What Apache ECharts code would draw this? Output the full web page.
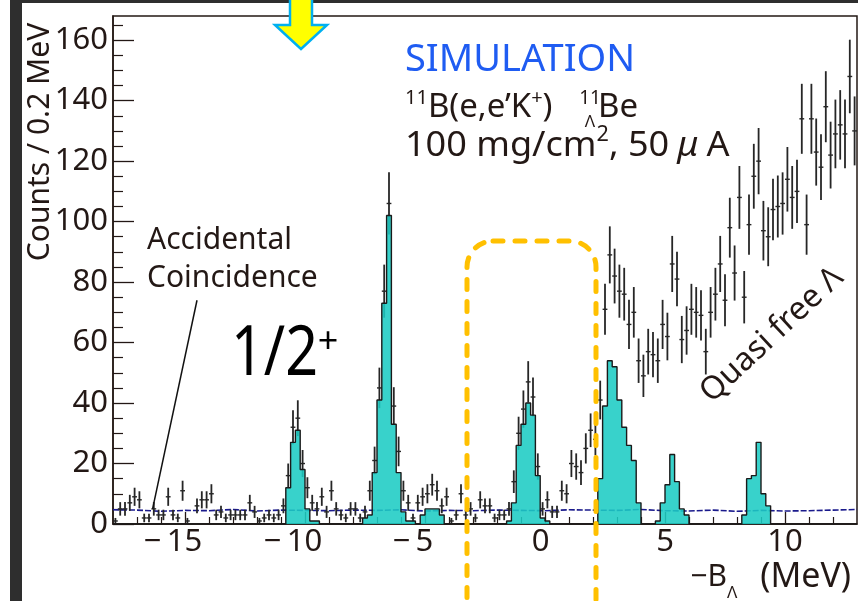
<!DOCTYPE html>
<html>
<head>
<meta charset="utf-8">
<script src="https://cdn.jsdelivr.net/npm/echarts@6/dist/echarts.min.js"></script>
<style>
  html, body { margin: 0; padding: 0; background: #fff; }
  #chart { width: 858px; height: 601px; }
</style>
</head>
<body>
<div id="chart"></div>
<script>
// axis range (MeV) and histogram binning
const X_MIN = -18, X_MAX = 13, BIN_WIDTH = 0.2;
const Y_MIN = 0, Y_MAX = 168;

const xMajorTicks = [-15, -10, -5, 0, 5, 10];
const xMinorTicks = [-17, -16, -14, -13, -12, -11, -9, -8, -7, -6, -4, -3, -2, -1, 1, 2, 3, 4, 6, 7, 8, 9, 11, 12];
const yMajorTicks = [0, 20, 40, 60, 80, 100, 120, 140, 160];
const yMinorTicks = [5, 10, 15, 25, 30, 35, 45, 50, 55, 65, 70, 75, 85, 90, 95, 105, 110, 115, 125, 130, 135, 145, 150, 155, 165];

// counts per 0.2 MeV bin, first bin starts at X_MIN
const dataCounts = [
  1, 5, 5, 7, 9, 8, 2, 2, 5, 3, 3, 9, 3, 2, 11, 1, 0, 6, 8, 8, 10, 3, 4, 2, 3, 3, 3, 3, 7, 4, 1, 2, 3, 2, 3, 6,
  16, 32, 35, 20, 12, 7, 5, 9, 4, 11, 5, 3, 2, 5, 5, 2, 4, 11, 21, 45, 77, 106, 39, 24, 11, 7, 2, 7, 9, 10, 13, 11,
  6, 9, 1, 3, 10, 3, 5, 2, 8, 6, 6, 2, 3, 3, 5, 14, 30, 38, 47, 42, 19, 5, 8, 4, 4, 11, 10, 20, 19, 17, 25, 31, 28, 41,
  71, 89, 82, 77, 76, 66, 70, 54, 49, 57, 56, 54, 66, 62, 86, 81, 61, 64, 71, 70, 69, 57, 70, 76, 86, 74, 98, 83, 108,
  75, 99, 115, 120, 97, 95, 104, 105, 106, 114, 108, 110, 134, 99, 134, 123, 118, 138, 122, 129, 132, 129, 148, 130
];
const signalCounts = [
  0, 0, 0, 0, 0, 0, 0, 0, 0, 0, 0, 0, 0, 0, 0, 0, 0, 0, 0, 0, 0, 0, 0, 0, 0, 0, 0, 0, 0, 0, 0, 0, 0, 0, 0, 0,
  12, 27, 31, 18, 5, 1, 1,
  0, 0, 0, 0, 0, 0, 0, 0, 0,
  2, 3, 17, 41, 73, 102, 33, 17, 4, 1, 1,
  0,
  3, 5, 5, 5, 3,
  0, 0, 0, 0, 0, 0, 0, 0, 0, 0, 0, 0, 0,
  1, 7, 26, 33, 40, 36, 16, 2, 1,
  0, 0, 0, 0, 0, 0, 0, 0, 0, 0,
  15, 39, 54, 52, 41, 32, 26, 21, 7,
  0, 0, 0,
  1, 7, 13, 23, 14, 5, 3,
  0, 0, 0, 0, 0, 0, 0, 0, 0, 0, 0,
  3, 15, 16, 27, 10, 6,
  0, 0, 0, 0, 0, 0, 0, 0, 0, 0, 0, 0, 0, 0, 0, 0, 0, 0
];

// accidental coincidence level (blue dashed), read every 1 MeV
const accidentalX = [-18, -17, -16, -15, -14, -13, -12, -11, -10, -9, -8, -7, -6, -5, -4, -3, -2, -1, 0, 1, 2, 3, 4, 5, 6, 7, 8, 9, 10, 11, 12, 13];
const accidentalY = [4.7, 4.6, 4.2, 4.5, 4.4, 4.8, 4.3, 4.6, 4.5, 4.4, 4.6, 4.5, 4.7, 4.3, 4.5, 4.4, 4.6, 4.5, 4.4, 4.7, 4.6, 4.5, 4.8, 4.4, 4.3, 4.6, 4.2, 4.5, 4.3, 4.4, 4.6, 4.8];

const FONT = '"Noto Sans", "Open Sans", sans-serif';
const INK = '#231815';

const chart = echarts.init(document.getElementById('chart'), null, { renderer: 'canvas' });

const errorData = dataCounts
  .map((n, i) => [X_MIN + BIN_WIDTH * (i + 0.5), n])
  .filter(d => d[1] > 0);

const signalData = signalCounts.map((n, i) => [X_MIN + BIN_WIDTH * i, n]);
signalData.push([X_MAX, signalCounts[signalCounts.length - 1]]);

const accidentalData = accidentalX.map((x, i) => [x, accidentalY[i]]);

function xLabel(v) {
  if (v < 0) return '{neg|\u2212\u2009' + Math.abs(v) + '}';
  if (v === 0) return '{zero|0}';
  return '{pos|' + v + '}';
}

chart.setOption({
  animation: false,
  backgroundColor: '#fff',
  grid: { left: 113, right: 1, top: 16, bottom: 77, show: true, borderColor: INK, borderWidth: 1.5, outerBoundsMode: 'none' },
  xAxis: [
    {
      type: 'value', min: X_MIN, max: X_MAX,
      axisLine: { show: true, onZero: false, lineStyle: { color: INK, width: 1.5 } },
      axisTick: { show: true, inside: true, length: 12, customValues: xMajorTicks, lineStyle: { color: INK, width: 1.3 } },
      axisLabel: {
        customValues: xMajorTicks, margin: 3, color: INK, formatter: xLabel,
        rich: {
          neg: { fontSize: 31, fontFamily: FONT, color: INK, padding: [0, 24, 0, 0] },
          zero: { fontSize: 31, fontFamily: FONT, color: INK, padding: [0, 9, 0, 0] },
          pos: { fontSize: 31, fontFamily: FONT, color: INK }
        }
      },
      splitLine: { show: false }
    },
    {
      type: 'value', min: X_MIN, max: X_MAX, position: 'bottom',
      axisLine: { show: false, onZero: false },
      axisTick: { show: true, inside: true, length: 7, customValues: xMinorTicks, lineStyle: { color: INK, width: 1.2 } },
      axisLabel: { show: false },
      splitLine: { show: false }
    }
  ],
  yAxis: [
    {
      type: 'value', min: Y_MIN, max: Y_MAX, position: 'left',
      axisLine: { show: true, onZero: false, lineStyle: { color: INK, width: 1.5 } },
      axisTick: { show: true, inside: true, length: 21, customValues: yMajorTicks, lineStyle: { color: INK, width: 1.3 } },
      axisLabel: { customValues: yMajorTicks, margin: 5, color: INK, fontSize: 31, fontFamily: FONT },
      splitLine: { show: false }
    },
    {
      type: 'value', min: Y_MIN, max: Y_MAX, position: 'left',
      axisLine: { show: false, onZero: false },
      axisTick: { show: true, inside: true, length: 10, customValues: yMinorTicks, lineStyle: { color: INK, width: 1.2 } },
      axisLabel: { show: false },
      splitLine: { show: false }
    }
  ],
  series: [
    {
      name: 'accidental', type: 'line', z: 1, silent: true,
      data: accidentalData, symbol: 'none',
      lineStyle: { color: '#1a1a8c', width: 1.6, type: [6, 2] }
    },
    {
      name: 'data', type: 'custom', z: 2, silent: true, clip: true,
      data: errorData,
      renderItem: (params, api) => {
        const x = api.value(0), n = api.value(1), err = Math.sqrt(n);
        const top = api.coord([x, n + err]);
        const bot = api.coord([x, Math.max(n - err, 0)]);
        const l = api.coord([x - BIN_WIDTH / 2, n]);
        const r = api.coord([x + BIN_WIDTH / 2, n]);
        return {
          type: 'group',
          children: [
            { type: 'line', shape: { x1: top[0], y1: top[1], x2: bot[0], y2: bot[1] }, style: { stroke: '#262626', lineWidth: 1.8 } },
            { type: 'line', shape: { x1: l[0], y1: l[1], x2: r[0], y2: r[1] }, style: { stroke: '#262626', lineWidth: 1.4 } }
          ]
        };
      },
      markLine: {
        silent: true, symbol: ['none', 'none'],
        label: { show: false },
        lineStyle: { color: '#111', width: 1.5, type: 'solid' },
        data: [[{ coord: [-16.35, 5] }, { coord: [-14.5, 74] }]]
      }
    },
    {
      name: 'signal', type: 'line', z: 3, silent: true,
      step: 'end', data: signalData, symbol: 'none',
      lineStyle: { color: '#1a1a1a', width: 1.4 },
      areaStyle: { color: 'rgba(28,204,196,0.88)', opacity: 1 }
    }
  ],
  graphic: [
    { type: 'rect', z: 50, shape: { x: 10, y: 0, width: 12, height: 601 }, style: { fill: '#2e2e2e' } },
    { type: 'rect', z: 50, shape: { x: 10, y: 0, width: 848, height: 3 }, style: { fill: '#2e2e2e' } },
    {
      type: 'polygon', z: 60,
      shape: { points: [[290, -3], [312, -3], [312, 25], [327, 25], [301, 49], [275, 25], [290, 25]] },
      style: { fill: '#ffff00', stroke: '#00b0f0', lineWidth: 2.5 }
    },
    { type: 'text', z: 40, x: 405, y: 60, style: { text: 'SIMULATION', fill: '#1f5cf2', fontSize: 38, fontFamily: FONT, textAlign: 'left', textVerticalAlign: 'middle' } },
    {
      type: 'text', z: 40, x: 405, y: 108,
      style: {
        text: '{s|11}{n|B(e,e\u2019K}{s|+}{n|)}', textAlign: 'left', textVerticalAlign: 'middle',
        rich: {
          n: { fontSize: 33, fontFamily: FONT, fill: INK, lineHeight: 40 },
          s: { fontSize: 20, fontFamily: FONT, fill: INK, verticalAlign: 'top', lineHeight: 22 }
        }
      }
    },
    { type: 'text', z: 40, x: 590, y: 99, style: { text: '11', fill: INK, fontSize: 19, fontFamily: FONT, textAlign: 'center', textVerticalAlign: 'middle' } },
    { type: 'text', z: 40, x: 590, y: 122, style: { text: '\u039b', fill: INK, fontSize: 17, fontFamily: FONT, textAlign: 'center', textVerticalAlign: 'middle' } },
    { type: 'text', z: 40, x: 598, y: 108, style: { text: 'Be', fill: INK, fontSize: 33, fontFamily: FONT, textAlign: 'left', textVerticalAlign: 'middle' } },
    {
      type: 'text', z: 40, x: 405, y: 146, scaleX: 1.03,
      style: {
        text: '{n|100 mg/cm}{s|2}{n|, 50}{g| }{m|\u03bc}{g| }{n|A}', textAlign: 'left', textVerticalAlign: 'middle',
        rich: {
          n: { fontSize: 35, fontFamily: FONT, fill: INK, lineHeight: 42 },
          m: { fontSize: 35, fontFamily: FONT, fill: INK, lineHeight: 42, fontStyle: 'italic' },
          g: { fontSize: 30, fontFamily: FONT, lineHeight: 42 },
          s: { fontSize: 21, fontFamily: FONT, fill: INK, verticalAlign: 'top', lineHeight: 24 }
        }
      }
    },
    { type: 'text', z: 40, x: 147, y: 240, style: { text: 'Accidental', fill: INK, fontSize: 30, fontFamily: FONT, textAlign: 'left', textVerticalAlign: 'middle' } },
    { type: 'text', z: 40, x: 147, y: 278, style: { text: 'Coincidence', fill: INK, fontSize: 30, fontFamily: FONT, textAlign: 'left', textVerticalAlign: 'middle' } },
    { type: 'text', z: 40, x: 231, y: 355, scaleX: 0.82, style: { text: '1/2', fill: '#000', fontSize: 70, fontFamily: FONT, textAlign: 'left', textVerticalAlign: 'middle' } },
    { type: 'text', z: 40, x: 328, y: 343, style: { text: '+', fill: '#000', fontSize: 36, fontFamily: FONT, textAlign: 'center', textVerticalAlign: 'middle' } },
    { type: 'text', z: 40, x: 772, y: 335, rotation: 0.75, style: { text: 'Quasi free \u039b', fill: INK, fontSize: 32, fontFamily: FONT, textAlign: 'center', textVerticalAlign: 'middle' } },
    { type: 'text', z: 40, x: 40, y: 142, rotation: Math.PI / 2, style: { text: 'Counts / 0.2 MeV', fill: INK, fontSize: 30, fontFamily: FONT, textAlign: 'center', textVerticalAlign: 'middle' } },
    { type: 'text', z: 40, x: 727, y: 577, style: { text: '\u2212B', fill: INK, fontSize: 30, fontFamily: FONT, textAlign: 'right', textVerticalAlign: 'middle' } },
    { type: 'text', z: 40, x: 727, y: 593, style: { text: '\u039b', fill: INK, fontSize: 17, fontFamily: FONT, textAlign: 'left', textVerticalAlign: 'middle' } },
    { type: 'text', z: 40, x: 851, y: 577, style: { text: '(MeV)', fill: INK, fontSize: 34, fontFamily: FONT, textAlign: 'right', textVerticalAlign: 'middle' } },
    {
      type: 'rect', z: 100,
      shape: { x: 467, y: 241, width: 129, height: 420, r: [26, 26, 0, 0] },
      style: { fill: 'none', stroke: '#ffc000', lineWidth: 5, lineDash: [10, 12], lineCap: 'round' }
    }
  ]
});
</script>
</body>
</html>
